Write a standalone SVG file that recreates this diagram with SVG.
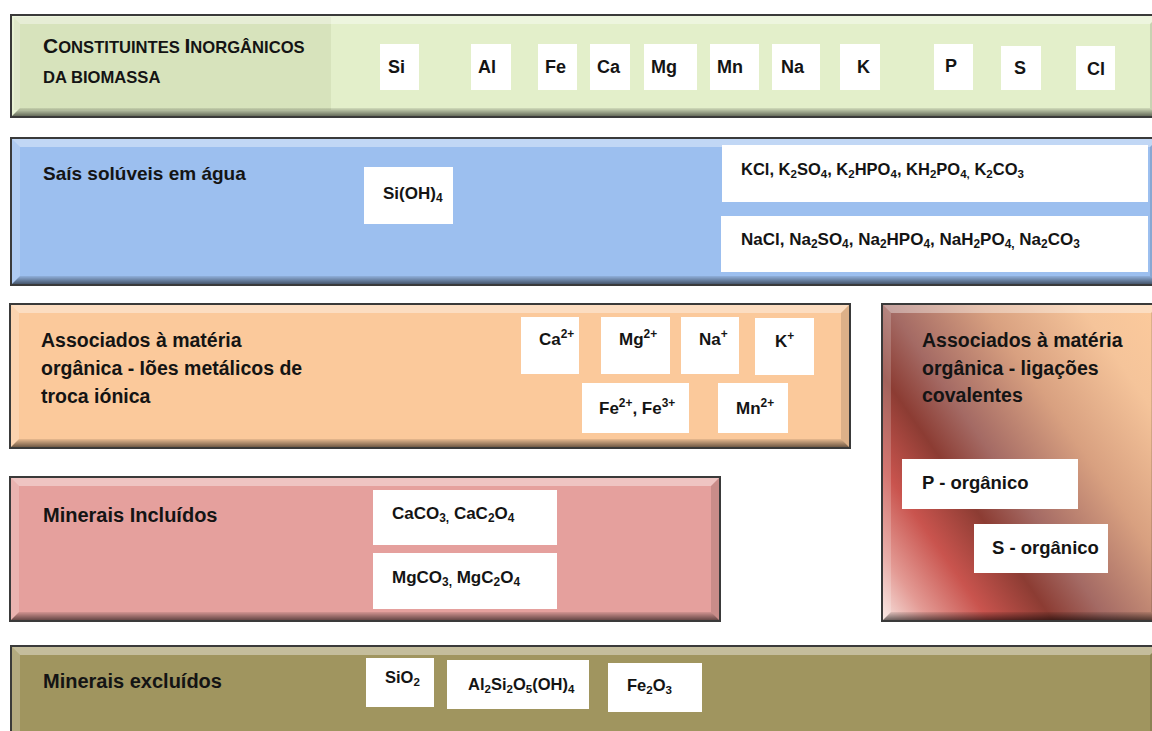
<svg xmlns="http://www.w3.org/2000/svg" width="1152" height="731" viewBox="0 0 1152 731">
<defs>
<style>
.t{font-family:"Liberation Sans",Arial,sans-serif;font-weight:bold;fill:#141414}
.sub{font-size:70%}
.box{fill:#fff}
.border{fill:#3a3a3a}
.bt{fill:#fff;fill-opacity:.38}
.bl{fill:#fff;fill-opacity:.2}
.br{fill:#000;fill-opacity:.12}
.bb{fill:url(#gBot)}
</style>
<linearGradient id="gBot" x1="0" y1="0" x2="0" y2="1">
<stop offset="0" stop-color="#000" stop-opacity=".08"/>
<stop offset="1" stop-color="#000" stop-opacity=".55"/>
</linearGradient>
<linearGradient id="gCov" gradientUnits="userSpaceOnUse" x1="881" y1="621" x2="1213" y2="390">
<stop offset="0" stop-color="#f8e6e2"/>
<stop offset="0.1" stop-color="#e39a94"/>
<stop offset="0.22" stop-color="#c9544e"/>
<stop offset="0.35" stop-color="#8c3c33"/>
<stop offset="0.46" stop-color="#a46a64"/>
<stop offset="0.65" stop-color="#d8a080"/>
<stop offset="0.85" stop-color="#f5c49a"/>
<stop offset="1" stop-color="#fcca9c"/>
</linearGradient>
</defs>

<g id="constituintes">
<rect class="border" x="10" y="14" width="1150" height="104"/>
<rect x="12" y="16" width="1146" height="100" fill="#e3efca"/>
<rect x="14" y="17" width="317" height="93" fill="#d7e3bc"/>
<polygon class="bt" points="12,16 1158,16 1150,24 20,24"/>
<polygon class="bl" points="12,16 20,24 20,108 12,116"/>
<polygon class="br" points="1158,16 1158,116 1150,108 1150,24"/>
<polygon class="bb" points="12,116 1158,116 1150,108 20,108"/>
<text class="t" x="43" y="53"><tspan font-size="21">C</tspan><tspan font-size="16.6">ONSTITUINTES </tspan><tspan font-size="21">I</tspan><tspan font-size="16.6">NORGÂNICOS</tspan></text>
<text class="t" x="43" y="83" font-size="16.6">DA BIOMASSA</text>
<g font-size="18">
<rect class="box" x="380" y="44" width="39" height="46"/><text class="t" x="388" y="73">Si</text>
<rect class="box" x="471" y="44" width="40" height="46"/><text class="t" x="478" y="73">Al</text>
<rect class="box" x="538" y="44" width="39" height="46"/><text class="t" x="545" y="73">Fe</text>
<rect class="box" x="590" y="44" width="40" height="46"/><text class="t" x="597" y="73">Ca</text>
<rect class="box" x="644" y="44" width="53" height="46"/><text class="t" x="651" y="73">Mg</text>
<rect class="box" x="710" y="44" width="49" height="46"/><text class="t" x="717" y="73">Mn</text>
<rect class="box" x="772" y="44" width="48" height="46"/><text class="t" x="781" y="73">Na</text>
<rect class="box" x="840" y="44" width="40" height="46"/><text class="t" x="857" y="73">K</text>
<rect class="box" x="934" y="44" width="39" height="46"/><text class="t" x="945" y="72">P</text>
<rect class="box" x="1001" y="46" width="40" height="44"/><text class="t" x="1014" y="74">S</text>
<rect class="box" x="1076" y="46" width="39" height="44"/><text class="t" x="1087" y="75">Cl</text>
</g>
</g>

<g id="sais-soluveis">
<rect class="border" x="10" y="137" width="1150" height="149"/>
<rect x="12" y="139" width="1146" height="145" fill="#9cbfef"/>
<polygon class="bt" points="12,139 1158,139 1150,147 20,147"/>
<polygon class="bl" points="12,139 20,147 20,276 12,284"/>
<polygon class="br" points="1158,139 1158,284 1150,276 1150,147"/>
<polygon class="bb" points="12,284 1158,284 1150,276 20,276"/>
<text class="t" x="43" y="180" font-size="19">Saís solúveis em água</text>
<rect class="box" x="364" y="167" width="89" height="57"/>
<text class="t" x="383" y="199" font-size="17">Si(OH)<tspan class="sub" dy="3">4</tspan></text>
<rect class="box" x="722" y="145" width="426" height="57"/>
<text class="t" x="741" y="175" font-size="16.5">KCl, K<tspan class="sub" dy="3">2</tspan><tspan dy="-3">SO</tspan><tspan class="sub" dy="3">4</tspan><tspan dy="-3">, K</tspan><tspan class="sub" dy="3">2</tspan><tspan dy="-3">HPO</tspan><tspan class="sub" dy="3">4</tspan><tspan dy="-3">, KH</tspan><tspan class="sub" dy="3">2</tspan><tspan dy="-3">PO</tspan><tspan class="sub" dy="3">4,</tspan><tspan dy="-3"> K</tspan><tspan class="sub" dy="3">2</tspan><tspan dy="-3">CO</tspan><tspan class="sub" dy="3">3</tspan></text>
<rect class="box" x="721" y="216" width="427" height="56"/>
<text class="t" x="741" y="245" font-size="17">NaCl, Na<tspan class="sub" dy="3">2</tspan><tspan dy="-3">SO</tspan><tspan class="sub" dy="3">4</tspan><tspan dy="-3">, Na</tspan><tspan class="sub" dy="3">2</tspan><tspan dy="-3">HPO</tspan><tspan class="sub" dy="3">4</tspan><tspan dy="-3">, NaH</tspan><tspan class="sub" dy="3">2</tspan><tspan dy="-3">PO</tspan><tspan class="sub" dy="3">4,</tspan><tspan dy="-3"> Na</tspan><tspan class="sub" dy="3">2</tspan><tspan dy="-3">CO</tspan><tspan class="sub" dy="3">3</tspan></text>
</g>

<g id="ioes-metalicos">
<rect class="border" x="9" y="303" width="842" height="146"/>
<rect x="11" y="305" width="838" height="142" fill="#fbc99b"/>
<polygon class="bt" points="11,305 849,305 841,313 19,313"/>
<polygon class="bl" points="11,305 19,313 19,439 11,447"/>
<polygon class="br" points="849,305 849,447 841,439 841,313"/>
<polygon class="bb" points="11,447 849,447 841,439 19,439"/>
<text class="t" font-size="19.5"><tspan x="41" y="347">Associados à matéria</tspan><tspan x="41" y="375">orgânica - Iões metálicos de</tspan><tspan x="41" y="403">troca iónica</tspan></text>
<g font-size="17">
<rect class="box" x="521" y="317" width="58" height="57"/><text class="t" x="539" y="345">Ca<tspan class="sub" dy="-7">2+</tspan></text>
<rect class="box" x="601" y="317" width="69" height="57"/><text class="t" x="619" y="345">Mg<tspan class="sub" dy="-7">2+</tspan></text>
<rect class="box" x="681" y="317" width="58" height="57"/><text class="t" x="699" y="345">Na<tspan class="sub" dy="-7">+</tspan></text>
<rect class="box" x="755" y="318" width="59" height="57"/><text class="t" x="775" y="347">K<tspan class="sub" dy="-7">+</tspan></text>
<rect class="box" x="582" y="383" width="107" height="50"/><text class="t" x="599" y="414">Fe<tspan class="sub" dy="-7">2+</tspan><tspan dy="7">, Fe</tspan><tspan class="sub" dy="-7">3+</tspan></text>
<rect class="box" x="718" y="383" width="70" height="50"/><text class="t" x="736" y="414">Mn<tspan class="sub" dy="-7">2+</tspan></text>
</g>
</g>

<g id="ligacoes-covalentes">
<rect class="border" x="881" y="303" width="280" height="319"/>
<rect x="883" y="305" width="276" height="315" fill="url(#gCov)"/>
<polygon class="bt" points="883,305 1159,305 1151,313 891,313"/>
<polygon class="bl" points="883,305 891,313 891,612 883,620"/>
<polygon class="br" points="1159,305 1159,620 1151,612 1151,313"/>
<polygon class="bb" points="883,620 1159,620 1151,612 891,612"/>
<text class="t" font-size="19.5"><tspan x="922" y="347">Associados à matéria</tspan><tspan x="922" y="375">orgânica - ligações</tspan><tspan x="922" y="402">covalentes</tspan></text>
<rect class="box" x="902" y="459" width="176" height="50"/>
<text class="t" x="922" y="489" font-size="18.5">P - orgânico</text>
<rect class="box" x="974" y="524" width="134" height="49"/>
<text class="t" x="992" y="554" font-size="18.5">S - orgânico</text>
</g>

<g id="minerais-incluidos">
<rect class="border" x="9" y="476" width="712" height="146"/>
<rect x="11" y="478" width="708" height="142" fill="#e5a09d"/>
<polygon class="bt" points="11,478 719,478 711,486 19,486"/>
<polygon class="bl" points="11,478 19,486 19,612 11,620"/>
<polygon class="br" points="719,478 719,620 711,612 711,486"/>
<polygon class="bb" points="11,620 719,620 711,612 19,612"/>
<text class="t" x="43" y="522" font-size="20">Minerais Incluídos</text>
<rect class="box" x="373" y="490" width="184" height="55"/>
<text class="t" x="392" y="519" font-size="17">CaCO<tspan class="sub" dy="3">3,</tspan><tspan dy="-3"> CaC</tspan><tspan class="sub" dy="3">2</tspan><tspan dy="-3">O</tspan><tspan class="sub" dy="3">4</tspan></text>
<rect class="box" x="373" y="553" width="184" height="56"/>
<text class="t" x="392" y="583" font-size="17">MgCO<tspan class="sub" dy="3">3,</tspan><tspan dy="-3"> MgC</tspan><tspan class="sub" dy="3">2</tspan><tspan dy="-3">O</tspan><tspan class="sub" dy="3">4</tspan></text>
</g>

<g id="minerais-excluidos">
<rect class="border" x="10" y="645" width="1150" height="100"/>
<rect x="12" y="647" width="1146" height="96" fill="#a0955f"/>
<polygon class="bt" points="12,647 1158,647 1150,655 20,655"/>
<polygon class="bl" points="12,647 20,655 20,735 12,743"/>
<polygon class="br" points="1158,647 1158,743 1150,735 1150,655"/>
<text class="t" x="43" y="688" font-size="20">Minerais excluídos</text>
<rect class="box" x="366" y="658" width="68" height="49"/>
<text class="t" x="385" y="683" font-size="16.5">SiO<tspan class="sub" dy="3">2</tspan></text>
<rect class="box" x="447" y="660" width="142" height="49"/>
<text class="t" x="468" y="690" font-size="16.5">Al<tspan class="sub" dy="3">2</tspan><tspan dy="-3">Si</tspan><tspan class="sub" dy="3">2</tspan><tspan dy="-3">O</tspan><tspan class="sub" dy="3">5</tspan><tspan dy="-3">(OH)</tspan><tspan class="sub" dy="3">4</tspan></text>
<rect class="box" x="608" y="663" width="94" height="49"/>
<text class="t" x="627" y="691" font-size="16.5">Fe<tspan class="sub" dy="3">2</tspan><tspan dy="-3">O</tspan><tspan class="sub" dy="3">3</tspan></text>
</g>

<g id="connectors"/>
</svg>
